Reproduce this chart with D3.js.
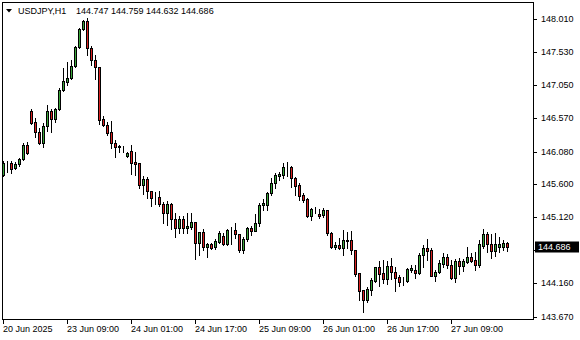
<!DOCTYPE html>
<html><head><meta charset="utf-8">
<script src="https://cdn.jsdelivr.net/npm/d3@7"></script>
<style>html,body{margin:0;padding:0;background:#fff;}svg{display:block;}</style>
</head><body>
<svg id="c" width="580" height="340"></svg>
<script>
const symbol = "USDJPY,H1";
const open = [145.738,145.906,145.917,145.835,145.893,145.970,146.175,146.670,146.510,146.360,146.200,146.447,146.670,146.549,146.695,146.980,147.097,147.146,147.321,147.598,147.860,147.977,147.588,147.409,147.307,146.549,146.462,146.360,146.200,146.160,146.146,146.010,146.083,145.923,145.913,145.597,145.675,145.501,145.418,145.418,145.311,145.189,145.320,145.093,144.962,145.093,144.962,144.985,145.054,144.743,144.904,144.694,144.729,144.685,144.767,144.850,144.729,144.937,144.937,144.879,144.646,144.802,144.966,144.927,145.035,145.297,145.301,145.472,145.617,145.724,145.738,145.850,145.850,145.690,145.592,145.447,145.384,145.145,145.228,145.170,145.156,145.228,144.898,144.685,144.719,144.679,144.787,144.791,144.646,144.306,144.063,143.918,144.063,144.199,144.394,144.306,144.223,144.413,144.330,144.253,144.199,144.199,144.355,144.355,144.306,144.573,144.679,144.646,144.272,144.321,144.442,144.540,144.427,144.234,144.486,144.417,144.475,144.540,144.500,144.427,144.708,144.879,144.729,144.636,144.690,144.694,144.747];
const high = [145.942,145.938,145.942,145.927,145.990,146.204,146.219,146.699,146.568,146.427,146.495,146.757,146.699,146.718,147.005,147.301,147.384,147.409,147.621,147.883,147.996,148.025,147.612,147.490,147.310,146.602,146.514,146.520,146.248,146.179,146.160,146.073,146.179,146.073,145.920,145.724,145.709,145.505,145.491,145.501,145.345,145.364,145.325,145.180,145.145,145.145,145.189,145.189,145.060,144.910,144.947,144.743,144.743,144.802,144.927,144.898,144.947,144.985,145.043,144.885,144.831,144.985,144.995,145.170,145.335,145.389,145.495,145.690,145.763,145.786,145.909,145.932,145.869,145.713,145.617,145.480,145.399,145.253,145.276,145.239,145.253,145.235,144.912,144.767,144.816,144.944,144.908,144.922,144.650,144.310,144.068,144.111,144.234,144.403,144.490,144.500,144.490,144.534,144.403,144.282,144.257,144.379,144.427,144.427,144.598,144.719,144.806,144.671,144.355,144.500,144.598,144.588,144.500,144.510,144.525,144.510,144.685,144.606,144.621,144.791,144.947,144.912,144.879,144.889,144.840,144.791,144.759];
const low = [145.730,145.782,145.772,145.825,145.869,145.952,146.048,146.485,146.291,146.190,146.146,146.374,146.360,146.510,146.685,146.966,147.049,147.136,147.315,147.590,147.855,147.490,147.336,147.132,146.485,146.447,146.316,146.136,146.005,146.073,146.073,146.005,145.748,145.742,145.553,145.466,145.403,145.282,145.320,145.282,145.043,145.006,144.947,144.840,144.898,144.898,144.898,144.947,144.510,144.569,144.646,144.548,144.665,144.656,144.743,144.719,144.719,144.729,144.816,144.621,144.606,144.781,144.864,144.918,144.995,145.228,145.228,145.447,145.544,145.665,145.690,145.724,145.568,145.447,145.374,145.349,145.131,145.083,145.180,145.107,145.131,144.864,144.671,144.665,144.660,144.573,144.671,144.583,144.272,143.918,143.747,143.893,143.990,144.184,144.126,144.161,144.151,144.223,144.053,144.126,144.136,144.184,144.330,144.242,144.300,144.403,144.500,144.266,144.194,144.306,144.403,144.388,144.223,144.175,144.292,144.340,144.452,144.475,144.355,144.403,144.671,144.621,144.534,144.563,144.621,144.646,144.632];
const close = [145.913,145.917,145.830,145.903,145.975,146.179,146.063,146.500,146.360,146.200,146.447,146.670,146.549,146.695,146.976,147.103,147.146,147.321,147.607,147.864,147.977,147.588,147.409,147.307,146.543,146.462,146.354,146.204,146.150,146.146,146.142,146.054,145.917,145.903,145.597,145.675,145.505,145.408,145.416,145.311,145.189,145.311,145.093,144.962,145.093,144.962,144.995,145.054,144.743,144.904,144.694,144.733,144.679,144.781,144.898,144.733,144.937,144.935,144.879,144.646,144.802,144.970,144.927,145.043,145.301,145.326,145.476,145.617,145.738,145.753,145.850,145.852,145.690,145.582,145.437,145.374,145.141,145.239,145.230,145.141,145.228,144.898,144.685,144.719,144.679,144.791,144.781,144.646,144.292,144.049,143.918,144.073,144.209,144.394,144.292,144.223,144.413,144.330,144.234,144.184,144.197,144.365,144.388,144.315,144.573,144.671,144.636,144.272,144.321,144.452,144.540,144.427,144.234,144.486,144.417,144.486,144.540,144.490,144.427,144.729,144.879,144.729,144.636,144.729,144.729,144.743,144.686];
const yTickValues = [148.010,147.530,147.050,146.570,146.080,145.600,145.120,144.640,144.160,143.670];
const xTickIndex = [0,16,32,48,64,80,96,112];
const xTickLabels = ["20 Jun 2025","23 Jun 09:00","24 Jun 01:00","24 Jun 17:00","25 Jun 09:00","26 Jun 01:00","26 Jun 17:00","27 Jun 09:00"];

const UP = "#3aa53a", DOWN = "#d92121";
const FONT = "Liberation Sans, Arial, sans-serif";
const svg = d3.select("#c");
const L = 2, T = 2, R = 533, B = 319;

const n = open.length;
const last = n - 1;
const x = d3.scaleLinear().domain([0, n - 1]).range([3, 3 + 4 * (n - 1)]);
const y = d3.scaleLinear().domain([143.67, 148.01]).range([317, 19]);
const fmt = d3.format(".3f");

svg.append("defs").append("clipPath").attr("id", "clip")
  .append("rect").attr("x", L + 1).attr("y", T + 1).attr("width", R - L - 1).attr("height", B - T - 1);

const plot = svg.append("g").attr("clip-path", "url(#clip)").attr("shape-rendering", "crispEdges");
const idx = d3.range(n);

plot.selectAll("line.w").data(idx).join("line")
  .attr("x1", i => Math.round(x(i)) + 0.5).attr("x2", i => Math.round(x(i)) + 0.5)
  .attr("y1", i => Math.round(y(high[i]))).attr("y2", i => Math.round(y(low[i])) + 1)
  .attr("stroke", "#000").attr("stroke-width", 1);

plot.selectAll("rect.b").data(idx).join("rect")
  .attr("x", i => Math.round(x(i)) - 0.5)
  .attr("width", 2)
  .attr("y", i => Math.round(y(Math.max(open[i], close[i]))) + 0.5)
  .attr("height", i => Math.round(y(Math.min(open[i], close[i]))) - Math.round(y(Math.max(open[i], close[i]))))
  .attr("fill", i => close[i] > open[i] ? UP : (close[i] < open[i] ? DOWN : "#000"))
  .attr("stroke", "#000").attr("stroke-width", 1);

// frame
svg.append("rect").attr("x", L + 0.5).attr("y", T + 0.5).attr("width", R - L).attr("height", B - T)
  .attr("fill", "none").attr("stroke", "#000").attr("shape-rendering", "crispEdges");

// y axis (labels hidden where the current-price box covers them, as in the terminal)
const cy = Math.round(y(close[last]));
const yAxis = svg.append("g").attr("font-family", FONT).attr("font-size", "9px");
yTickValues.forEach(v => {
  const yy = Math.round(y(v));
  yAxis.append("line").attr("x1", R).attr("x2", R + 4).attr("y1", yy + 0.5).attr("y2", yy + 0.5)
    .attr("stroke", "#000").attr("shape-rendering", "crispEdges");
  if (Math.abs(yy - cy) > 10) {
    yAxis.append("text").attr("x", R + 8).attr("y", yy).attr("dy", "0.35em").attr("fill", "#000").text(fmt(v));
  }
});

// current price box
svg.append("rect").attr("x", R + 2).attr("y", cy - 5.5).attr("width", 44).attr("height", 11).attr("fill", "#000");
svg.append("text").attr("x", R + 5).attr("y", cy).attr("dy", "0.35em").attr("fill", "#fff")
  .attr("font-family", FONT).attr("font-size", "9px").text(fmt(close[last]));

// x axis
const xAxis = svg.append("g").attr("font-family", FONT).attr("font-size", "9px");
xTickIndex.forEach((ti, k) => {
  const xx = Math.round(x(ti));
  xAxis.append("line").attr("x1", xx + 0.5).attr("x2", xx + 0.5).attr("y1", B).attr("y2", B + 5)
    .attr("stroke", "#000").attr("shape-rendering", "crispEdges");
  xAxis.append("text").attr("x", xx).attr("y", 332).attr("fill", "#000").text(xTickLabels[k]);
});

// title
svg.append("path").attr("d", "M6,9 L12,9 L9,12.5 Z").attr("fill", "#000");
svg.append("text").attr("x", 18).attr("y", 14).attr("font-family", FONT).attr("font-size", "9px").attr("fill", "#000")
  .text(symbol);
svg.append("text").attr("x", 76).attr("y", 14).attr("font-family", FONT).attr("font-size", "9px").attr("fill", "#000")
  .text([open[last], high[last], low[last], close[last]].map(fmt).join(" "));
</script>
</body></html>
